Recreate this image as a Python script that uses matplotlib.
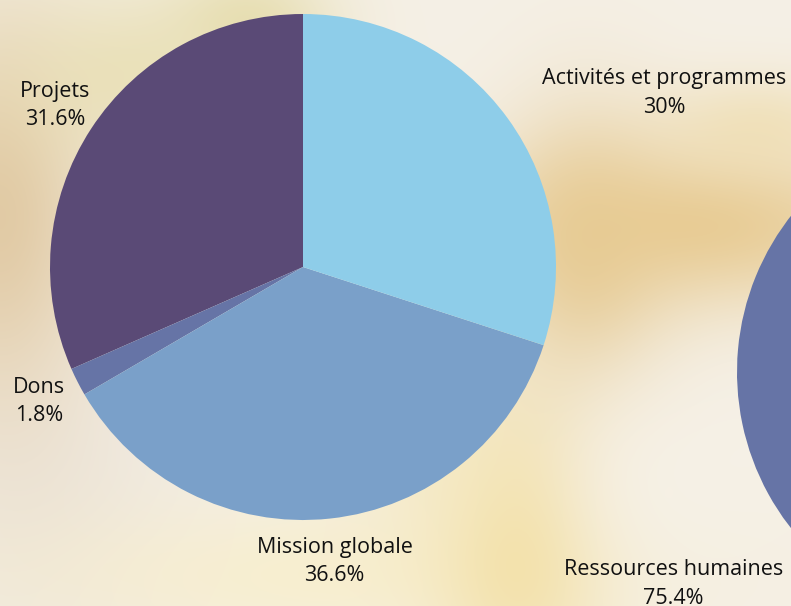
import numpy as np
import matplotlib
matplotlib.use("Agg")
import matplotlib.pyplot as plt
from matplotlib.colors import to_rgb

# ---- data ----
pie1_labels = ["Projets", "Dons", "Mission globale", "Activités et programmes"]
pie1_values = [31.6, 1.8, 36.6, 30]
pie1_colors = ["#5a4a76", "#6674a6", "#7aa0c9", "#8ecde9"]

pie2_labels = ["Ressources humaines", ""]
pie2_values = [75.4, 24.6]
pie2_colors = ["#6674a6", "#8ecde9"]

W, H = 791, 606
plt.rcParams['font.family'] = ['Open Sans', 'DejaVu Sans']

fig = plt.figure(figsize=(W / 100, H / 100), dpi=100)
ax = fig.add_axes([0, 0, 1, 1])
ax.set_xlim(0, W)
ax.set_ylim(0, H)
ax.set_aspect('equal')
ax.axis('off')

# ---- decorative blurred background ----
yy, xx = np.mgrid[0:H, 0:W].astype(float)
img = np.ones((H, W, 3)) * np.array(to_rgb("#f5f0e6"))
blobs = [
    (40, 500, 110, 120, "#ebe3d8", 0.7),
    (330, 575, 220, 50, "#f8eecb", 0.8),
    (0, 210, 70, 140, "#dec49a", 0.85),
    (130, 75, 90, 60, "#e7ddac", 0.7),
    (250, 20, 60, 40, "#e3d9a2", 0.7),
    (520, 540, 60, 110, "#f2dea0", 0.85),
    (440, 470, 80, 60, "#f5e8bb", 0.5),
    (585, 255, 60, 100, "#e6cc98", 0.85),
    (700, 225, 160, 60, "#e7c98e", 0.9),
    (760, 125, 70, 35, "#efdcaa", 0.6),
    (650, 470, 70, 70, "#f7f2e8", 0.6),
]
for cx, cy, sx, sy, col, a in blobs:
    w = a * np.exp(-((xx - cx) ** 2 / (2 * sx ** 2) + (yy - cy) ** 2 / (2 * sy ** 2)))
    img = img * (1 - w[..., None]) + np.array(to_rgb(col)) * w[..., None]
ax.imshow(img, extent=(0, W, 0, H), origin='upper', zorder=0, aspect='auto')

R = 253
txt = dict(fontsize=15.5, color="#111111", linespacing=1.45, multialignment='center')


def fmt(v):
    return f"{v:g}%"


# ---- pie 1 ----
lab1 = [f"{l}\n{fmt(v)}" for l, v in zip(pie1_labels, pie1_values)]
w1, t1 = ax.pie(pie1_values, labels=lab1, colors=pie1_colors, startangle=90,
                counterclock=True, center=(303, H - 267), radius=R,
                labeldistance=1.17, textprops=txt, frame=True,
                wedgeprops=dict(linewidth=0))
ha1 = ['center', 'center', 'center', 'left']
for t, h in zip(t1, ha1):
    t.set_ha(h)

# ---- pie 2 (partially visible) ----
lab2 = [f"{l}\n{fmt(v)}" if l else "" for l, v in zip(pie2_labels, pie2_values)]
w2, t2 = ax.pie(pie2_values, labels=lab2, colors=pie2_colors, startangle=90,
                counterclock=True, center=(990, H - 372), radius=R,
                labeldistance=1.17, textprops=txt, frame=True,
                wedgeprops=dict(linewidth=0))
t2[0].set_ha('right')

ax.set_xlim(0, W)
ax.set_ylim(0, H)
ax.axis('off')
for w in list(w1) + list(w2):
    w.set_clip_on(True)
    w.set_zorder(2)

fig.savefig("out.png", dpi=100)
